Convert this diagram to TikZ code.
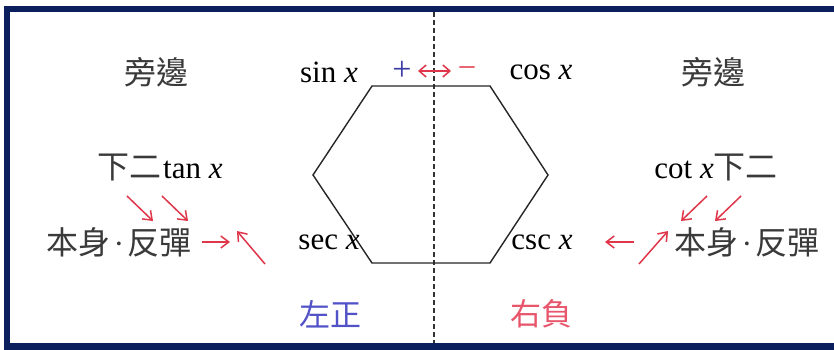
\documentclass[tikz,border=0pt]{standalone}
\usepackage{fontspec}
\setmainfont{Liberation Serif}
\newfontfamily\cjk{Noto Sans CJK TC}
\usetikzlibrary{arrows.meta}
\definecolor{navy}{HTML}{0B1F5E}
\definecolor{txtgray}{HTML}{3A3A3A}
\definecolor{arrred}{HTML}{E0364A}
\definecolor{plusblue}{HTML}{3C3CA8}
\definecolor{zblue}{HTML}{5252C8}
\definecolor{ypink}{HTML}{E8566C}
\newcommand{\mdot}{\hspace{3.5pt}{\fontspec{Liberation Serif}·}\hspace{3.5pt}}
\tikzset{
  lbl/.style={inner sep=0pt, text=txtgray, font=\fontsize{31}{31}\selectfont},
  cj/.style={lbl, font=\fontsize{32}{32}\selectfont\cjk},
  fn/.style={inner sep=0pt, text=black, font=\fontsize{31}{31}\selectfont},
  redarr/.style={draw=arrred, line width=1.5pt, -{Straight Barb[length=8pt,width=12pt]}},
  hexline/.style={draw=black!85, line width=1.4pt, line join=miter},
  axis/.style={draw=black!80, line width=1.3pt, dash pattern=on 5pt off 3pt},
}
\begin{document}
\begin{tikzpicture}[x=1pt,y=-1pt]
\useasboundingbox (0,0) rectangle (834,350);
\fill[white] (0,0) rectangle (834,350);
% frame
\draw[navy, line width=6.5pt] (7,351) -- (7,9.2) -- (840,9.2);
\draw[navy, line width=6.5pt] (4,346.5) -- (840,346.5);
% axis
\coordinate (axtop) at (434,12);
\coordinate (axbot) at (434,343);
\draw[axis] (axtop) -- (axbot);
% hexagon
\coordinate (h1) at (372,86);
\coordinate (h2) at (490,86);
\coordinate (h3) at (548,175);
\coordinate (h4) at (490,263);
\coordinate (h5) at (372,263);
\coordinate (h6) at (313,175);
\draw[hexline] (h1) -- (h2) -- (h3) -- (h4) -- (h5) -- (h6) -- cycle;
% function names
\node[fn] (sin) at (329,72) {sin \textit{x}};
\node[fn] (cos) at (541,72) {cos \textit{x}};
\node[fn] (sec) at (329,242) {sec \textit{x}};
\node[fn] (csc) at (542,242) {csc \textit{x}};
% top signs
\node[inner sep=0pt, text=plusblue, font=\fontsize{34}{34}\selectfont] (plus) at (402,71) {+};
\node[inner sep=0pt, text=arrred, font=\fontsize{30}{30}\selectfont] (minus) at (467,71) {\char"2013};
\coordinate (dl) at (418,71);
\coordinate (dr) at (451,71);
\draw[draw=arrred, line width=1.5pt, {Straight Barb[length=7pt,width=12pt]}-{Straight Barb[length=7pt,width=12pt]}] (dl) -- (dr);
% side labels
\node[cj] (pbL) at (156,72) {旁邊};
\node[cj] (pbR) at (713,72) {旁邊};
\node[lbl, anchor=west] (tan) at (97,168) {{\fontsize{32}{32}\selectfont\cjk 下二}\hspace{2pt}\textcolor{black}{tan \textit{x}}};
\node[lbl, anchor=east] (cot) at (778,168) {\textcolor{black}{cot \textit{x}}{\fontsize{32}{32}\selectfont\cjk 下二}};
\node[cj, anchor=west] (bsL) at (46,242) {本身\mdot 反彈};
\node[cj, anchor=east] (bsR) at (820,242) {本身\mdot 反彈};
\node[inner sep=0pt, text=zblue, font=\fontsize{31}{31}\selectfont\cjk] (zz) at (330,314) {左正};
\node[inner sep=0pt, text=ypink, font=\fontsize{31}{31}\selectfont\cjk] (yf) at (541,314) {右負};
% left arrows
\coordinate (a1s) at (127,196); \coordinate (a1e) at (153,221);
\coordinate (a2s) at (162,196); \coordinate (a2e) at (188,221);
\draw[redarr] (a1s) -- (a1e);
\draw[redarr] (a2s) -- (a2e);
\coordinate (a3s) at (202,242); \coordinate (a3e) at (230,242);
\draw[redarr] (a3s) -- (a3e);
\coordinate (a4s) at (265,264); \coordinate (a4e) at (237,231);
\draw[redarr] (a4s) -- (a4e);
% right arrows
\coordinate (b1s) at (707,196); \coordinate (b1e) at (681,221);
\coordinate (b2s) at (741,196); \coordinate (b2e) at (715,221);
\draw[redarr] (b1s) -- (b1e);
\draw[redarr] (b2s) -- (b2e);
\coordinate (b3s) at (634,242); \coordinate (b3e) at (605,242);
\draw[redarr] (b3s) -- (b3e);
\coordinate (b4s) at (639,264); \coordinate (b4e) at (668,231);
\draw[redarr] (b4s) -- (b4e);
\end{tikzpicture}
\end{document}
